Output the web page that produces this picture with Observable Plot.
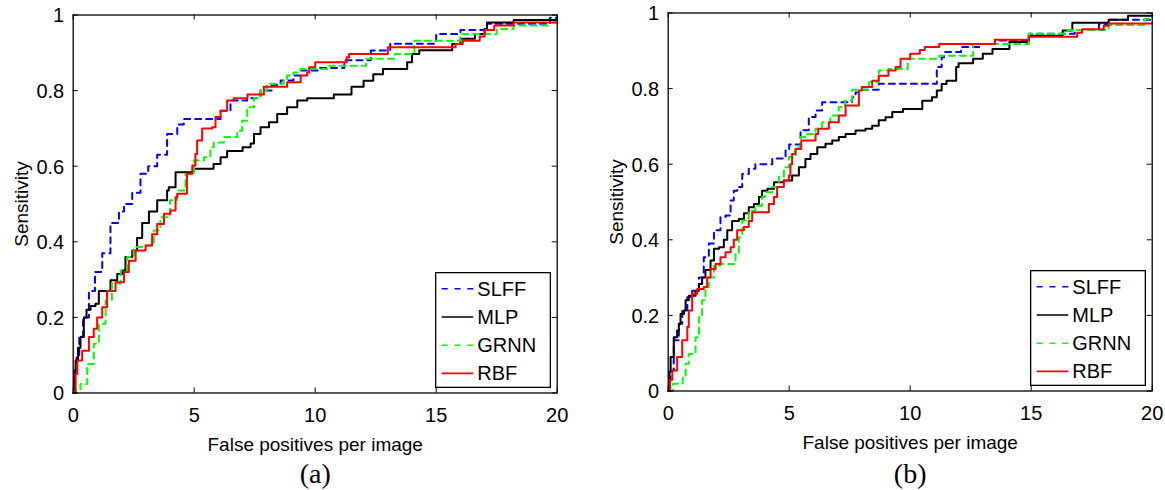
<!DOCTYPE html>
<html><head><meta charset="utf-8">
<script src="https://cdn.jsdelivr.net/npm/d3@7"></script>
<script src="https://cdn.jsdelivr.net/npm/@observablehq/plot@0.6"></script>
<style>
body{margin:0;background:#fff;}
#wrap{position:relative;width:1165px;height:490px;overflow:hidden;background:#fff;}
.panel{position:absolute;top:0;width:582px;height:490px;}
</style></head>
<body><div id="wrap"><div class="panel" id="pa" style="left:0px"></div><div class="panel" id="pb" style="left:583px"></div></div>
<script>
const xTicks = [0, 5, 10, 15, 20];
const yTicks = [0, 0.2, 0.4, 0.6, 0.8, 1];
const seriesNames = ["SLFF", "MLP", "GRNN", "RBF"];
const seriesColors = ["#0000ff", "#000000", "#00ff00", "#ff0000"];
const seriesDash = ["6,5", null, "6,5", null];
const xLabel = "False positives per image";
const yLabel = "Sensitivity";

// Panel (a): [false positives per image, sensitivity]
const aSLFF = [[0,0],[0.05,0.06],[0.14,0.1],[0.25,0.15],[0.41,0.2],[0.65,0.27],[0.9,0.32],[1.2,0.37],[1.54,0.45],[1.89,0.48],[2.1,0.5],[2.44,0.53],[2.78,0.58],[3.1,0.6],[3.47,0.63],[3.88,0.685],[4.3,0.71],[4.57,0.725],[6.09,0.747],[6.5,0.774],[7.19,0.78],[7.74,0.8],[8.2,0.815],[8.57,0.827],[9.1,0.84],[9.4,0.853],[10.2,0.86],[11.2,0.88],[12.3,0.906],[13.1,0.924],[15,0.95],[16,0.96],[17.1,0.977],[19.7,0.993],[20,0.993]];
const aMLP = [[0,0],[0.05,0.05],[0.1,0.086],[0.2,0.12],[0.3,0.148],[0.44,0.2],[0.55,0.22],[0.72,0.23],[0.92,0.236],[1.06,0.27],[1.54,0.298],[1.82,0.315],[2.02,0.324],[2.16,0.36],[2.44,0.377],[2.64,0.41],[2.85,0.45],[3.13,0.48],[3.47,0.51],[3.88,0.536],[3.95,0.544],[4.23,0.584],[4.98,0.593],[5.8,0.606],[6.09,0.624],[6.36,0.64],[7.0,0.65],[7.33,0.66],[7.47,0.685],[7.74,0.703],[8.09,0.716],[8.43,0.738],[8.84,0.756],[9.26,0.774],[9.67,0.78],[10.77,0.79],[11.5,0.81],[12.0,0.826],[12.4,0.843],[12.8,0.857],[13.8,0.875],[14.0,0.897],[14.3,0.907],[15.66,0.923],[16.0,0.937],[16.6,0.95],[17.0,0.963],[17.1,0.98],[18.2,0.987],[20,0.987]];
const aGRNN = [[0,0],[0.1,0.01],[0.3,0.024],[0.58,0.077],[0.85,0.13],[1.06,0.183],[1.34,0.245],[1.6,0.29],[1.96,0.324],[2.23,0.36],[2.5,0.386],[3.0,0.39],[3.33,0.43],[3.6,0.465],[4.0,0.51],[4.3,0.536],[4.64,0.58],[4.99,0.615],[5.4,0.624],[5.67,0.65],[5.81,0.663],[6.23,0.677],[6.78,0.694],[6.98,0.72],[7.19,0.756],[7.47,0.78],[7.74,0.8],[8.0,0.818],[8.7,0.826],[8.84,0.84],[9.1,0.848],[9.39,0.857],[10.6,0.866],[12.1,0.884],[13.3,0.897],[14.1,0.932],[16.0,0.95],[17.5,0.963],[18.2,0.972],[19.7,0.98],[20,0.98]];
const aRBF = [[0,0],[0.1,0.05],[0.17,0.086],[0.37,0.112],[0.65,0.148],[0.85,0.17],[0.99,0.2],[1.2,0.227],[1.4,0.27],[1.75,0.293],[2.1,0.32],[2.3,0.35],[2.58,0.377],[2.99,0.39],[3.26,0.42],[3.47,0.447],[3.75,0.474],[4.02,0.483],[4.23,0.518],[4.3,0.527],[4.7,0.58],[4.92,0.602],[5.05,0.632],[5.12,0.668],[5.33,0.7],[5.74,0.703],[5.88,0.73],[6.09,0.747],[6.36,0.774],[6.64,0.78],[7.2,0.79],[7.88,0.81],[8.84,0.822],[9.4,0.84],[9.67,0.848],[9.75,0.862],[10.0,0.875],[11.3,0.888],[11.4,0.897],[13.0,0.915],[15.8,0.923],[16.1,0.932],[16.8,0.943],[17.0,0.96],[17.4,0.972],[18.2,0.98],[20,0.98]];

// Panel (b)
const bSLFF = [[0,0],[0.05,0.03],[0.1,0.054],[0.23,0.134],[0.44,0.178],[0.58,0.213],[0.79,0.248],[0.99,0.265],[1.27,0.3],[1.47,0.354],[1.68,0.39],[1.89,0.425],[2.16,0.46],[2.37,0.464],[2.58,0.504],[2.71,0.53],[2.85,0.54],[3.06,0.574],[3.33,0.588],[3.6,0.6],[4.3,0.615],[4.85,0.636],[5.0,0.652],[5.47,0.69],[5.81,0.725],[6.09,0.742],[6.36,0.764],[7.6,0.778],[7.74,0.79],[7.88,0.797],[8.7,0.813],[11.1,0.857],[11.3,0.883],[11.4,0.897],[12.1,0.91],[12.9,0.918],[13.5,0.927],[14.9,0.945],[16.8,0.955],[17.8,0.97],[18.2,0.982],[20,0.982]];
const bMLP = [[0,0],[0.05,0.05],[0.1,0.09],[0.23,0.142],[0.37,0.16],[0.44,0.178],[0.51,0.204],[0.65,0.213],[0.72,0.24],[0.85,0.252],[1.13,0.265],[1.27,0.283],[1.4,0.3],[1.54,0.32],[1.75,0.345],[1.89,0.376],[2.1,0.38],[2.3,0.4],[2.44,0.425],[2.64,0.45],[2.92,0.455],[3.13,0.47],[3.33,0.486],[3.54,0.495],[3.75,0.513],[3.88,0.53],[4.1,0.535],[4.37,0.552],[4.78,0.557],[5.12,0.57],[5.4,0.592],[5.67,0.614],[5.88,0.627],[6.16,0.645],[6.5,0.654],[6.78,0.663],[7.05,0.672],[7.33,0.68],[7.74,0.689],[8.15,0.694],[8.43,0.702],[8.7,0.716],[8.98,0.724],[9.26,0.738],[9.7,0.746],[10.5,0.768],[10.9,0.777],[11.1,0.795],[11.3,0.812],[11.5,0.821],[11.9,0.857],[12.0,0.867],[12.6,0.879],[13.0,0.892],[13.4,0.905],[14.1,0.923],[14.9,0.94],[16.3,0.954],[16.7,0.974],[18.2,0.982],[19.0,0.993],[20,0.993]];
const bGRNN = [[0,0],[0.2,0.019],[0.6,0.04],[0.72,0.072],[0.85,0.098],[1.13,0.142],[1.27,0.195],[1.4,0.24],[1.54,0.275],[1.68,0.3],[1.89,0.332],[2.16,0.336],[2.78,0.363],[2.92,0.407],[3.06,0.451],[3.33,0.477],[3.6,0.49],[3.88,0.513],[4.0,0.526],[4.3,0.54],[4.57,0.566],[4.78,0.592],[4.99,0.619],[5.26,0.645],[5.47,0.672],[5.67,0.68],[6.09,0.694],[6.36,0.711],[6.7,0.729],[7.05,0.751],[7.3,0.768],[7.6,0.797],[8.3,0.817],[8.7,0.848],[9.1,0.852],[9.9,0.879],[11.2,0.887],[12.6,0.918],[14.9,0.945],[16.5,0.955],[18.2,0.968],[19.7,0.985],[20,0.985]];
const bRBF = [[0,0],[0.08,0.03],[0.17,0.054],[0.37,0.09],[0.58,0.134],[0.79,0.169],[0.85,0.213],[0.99,0.257],[1.2,0.27],[1.47,0.275],[1.61,0.3],[1.75,0.323],[1.96,0.336],[2.16,0.354],[2.37,0.367],[2.58,0.38],[2.71,0.4],[2.85,0.425],[3.13,0.434],[3.33,0.45],[3.47,0.473],[4.16,0.495],[4.37,0.513],[4.5,0.54],[4.78,0.557],[4.99,0.57],[5.05,0.6],[5.12,0.627],[5.26,0.64],[5.5,0.663],[6.09,0.68],[6.2,0.694],[6.64,0.711],[7.05,0.729],[7.33,0.755],[7.88,0.795],[8.0,0.804],[8.43,0.821],[8.7,0.834],[9.1,0.848],[9.4,0.857],[9.6,0.879],[10.0,0.892],[10.4,0.902],[10.6,0.91],[11.2,0.918],[13.5,0.929],[14.9,0.937],[16.9,0.948],[17.1,0.957],[18.0,0.966],[18.2,0.972],[20,0.972]];

const fmt = d3.format("~g");
const SANS = "'Liberation Sans', Arial, Helvetica, sans-serif";

function drawPanel(el, series, caption, m, captionDy) {
  const W = 582, H = 490;
  const fw = W - m.left - m.right, fh = H - m.top - m.bottom;
  const tick = 5;
  const marks = [
    ...series.map((pts, i) => Plot.line(pts, {
      x: d => d[0], y: d => d[1], stroke: seriesColors[i], strokeWidth: 2,
      strokeDasharray: seriesDash[i], curve: "step-after"
    })),
    Plot.frame({stroke: "#000", strokeWidth: 1.3}),
    Plot.ruleX(xTicks, {x: d => d, insetTop: fh - tick, stroke: "#000", strokeWidth: 1}),
    Plot.ruleX(xTicks, {x: d => d, insetBottom: fh - tick, stroke: "#000", strokeWidth: 1}),
    Plot.ruleY(yTicks, {y: d => d, insetRight: fw - tick, stroke: "#000", strokeWidth: 1}),
    Plot.ruleY(yTicks, {y: d => d, insetLeft: fw - tick, stroke: "#000", strokeWidth: 1}),
    Plot.axisX({ticks: xTicks, tickSize: 0, tickPadding: 15, tickFormat: fmt, label: null, fontSize: 20}),
    Plot.axisY({ticks: yTicks, tickSize: 0, tickPadding: 9, tickFormat: fmt, label: null, dy: 1, fontSize: 20}),
    Plot.text([xLabel], {text: d => d, frameAnchor: "bottom", textAnchor: "middle", lineAnchor: "middle", dy: 51.5, fontSize: 19}),
    Plot.text([yLabel], {text: d => d, frameAnchor: "left", textAnchor: "middle", lineAnchor: "middle", dx: -51, rotate: -90, fontSize: 19}),
    Plot.text([caption], {text: d => d, frameAnchor: "bottom", textAnchor: "middle", lineAnchor: "middle", dy: captionDy,
      fontFamily: "'Liberation Serif', 'Times New Roman', serif", fontSize: 28})
  ];
  const svg = Plot.plot({
    width: W, height: H,
    marginLeft: m.left, marginRight: m.right, marginTop: m.top, marginBottom: m.bottom,
    x: {domain: [0, 20]}, y: {domain: [0, 1]},
    style: {fontFamily: SANS, fontSize: "19px", color: "#000", background: "#fff", overflow: "visible"},
    marks
  });
  el.appendChild(svg);

  // legend box (lower right, inside the axes)
  const LW = 116, LH = 116;
  const lg = d3.select(el).append("svg")
    .attr("width", LW).attr("height", LH)
    .style("position", "absolute")
    .style("left", (W - m.right - 6 - LW) + "px")
    .style("top", (H - m.bottom - 5 - LH) + "px");
  lg.append("rect").attr("x", 0.65).attr("y", 0.65).attr("width", LW - 1.3).attr("height", LH - 1.3)
    .attr("fill", "#fff").attr("stroke", "#000").attr("stroke-width", 1.3);
  seriesNames.forEach((n, i) => {
    const cy = 16.8 + i * 28.2;
    lg.append("line").attr("x1", 6.7).attr("x2", 38.3).attr("y1", cy).attr("y2", cy)
      .attr("stroke", seriesColors[i]).attr("stroke-width", 1.6)
      .attr("stroke-dasharray", seriesDash[i] ? "6,6.8" : null);
    lg.append("text").attr("x", 42.3).attr("y", cy).attr("dy", "0.35em")
      .attr("font-family", SANS).attr("font-size", 20).attr("fill", "#000").text(n);
  });
}

drawPanel(document.getElementById("pa"), [aSLFF, aMLP, aGRNN, aRBF], "(a)",
  {left: 72.7, right: 25.3, top: 14.5, bottom: 97.5}, 81.5);
drawPanel(document.getElementById("pb"), [bSLFF, bMLP, bGRNN, bRBF], "(b)",
  {left: 84.7, right: 13.3, top: 12.5, bottom: 99.5}, 83.5);
</script>
</body></html>
